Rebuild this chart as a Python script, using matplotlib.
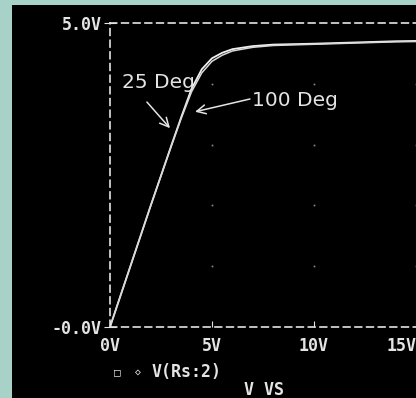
import matplotlib.pyplot as plt

# Data (sweep of Vs, output V(Rs:2))
vs = [0, 1, 2, 3, 3.5, 4, 4.5, 5, 5.5, 6, 7, 8, 10, 12, 14, 16]
v_25 = [0, 1, 2, 2.98, 3.46, 3.92, 4.24, 4.42, 4.51, 4.57, 4.62, 4.645, 4.66, 4.68, 4.70, 4.71]
v_100 = [0, 1, 2, 2.97, 3.44, 3.87, 4.18, 4.37, 4.47, 4.54, 4.60, 4.63, 4.65, 4.67, 4.69, 4.70]

xticks = [0, 5, 10, 15]
xticklabels = ["0V", "5V", "10V", "15V"]
yticks = [0, 5]
yticklabels = ["-0.0V", "5.0V"]
grid_levels = [1, 2, 3, 4]

W, H = 416, 398
fig = plt.figure(figsize=(W / 100, H / 100), dpi=100, facecolor="#a8d2c8")
# black screen area
fig.patches.append(plt.Rectangle((12 / W, 0), 1, 1 - 5 / H, transform=fig.transFigure,
                                 facecolor="black", edgecolor="none", zorder=-1))

ax = fig.add_axes([110 / W, 71 / H, 306 / W, 304 / H])
ax.set_facecolor("black")
ax.set_xlim(0, 15)
ax.set_ylim(0, 5)

fg = "#e4e4e4"
mono = dict(family="DejaVu Sans Mono", weight="bold", color=fg)

for s in ["left", "bottom", "top"]:
    ax.spines[s].set_color(fg)
    ax.spines[s].set_linestyle((0, (4, 3)))
    ax.spines[s].set_linewidth(1.2)
ax.spines["right"].set_visible(False)

ax.set_xticks(xticks)
ax.set_xticklabels(xticklabels, fontsize=12, **mono)
ax.get_xticklabels()[-1].set_horizontalalignment("right")
ax.set_yticks(yticks)
ax.set_yticklabels(yticklabels, fontsize=12, **mono)
ax.tick_params(axis="x", direction="in", length=4, color=fg, pad=7)
ax.tick_params(axis="y", direction="inout", length=8, color=fg, pad=2)

# dotted grid marks
for xt in xticks[1:]:
    for yl in grid_levels:
        ax.plot(xt, yl, "s", ms=1.2, color="#909090", mec="none", clip_on=False)

ax.plot(vs, v_25, color="#f0f0f0", lw=1.3)
ax.plot(vs, v_100, color="#d8d8d8", lw=1.1)

lbl = dict(color=fg, fontsize=14.5, fontfamily="DejaVu Sans", ha="left", va="center")
ax.text(0.59, 4.02, "25 Deg", **lbl)
ax.text(6.96, 3.73, "100 Deg", **lbl)
arrow = dict(arrowstyle="->", color=fg, lw=1.1, shrinkA=0, shrinkB=0, mutation_scale=16)
ax.annotate("", xy=(2.94, 3.27), xytext=(1.81, 3.70), arrowprops=arrow)
ax.annotate("", xy=(4.17, 3.54), xytext=(6.86, 3.75), arrowprops=arrow)

# legend row and x label
fig.text(117 / W, 1 - 372 / H, "\u25a1", fontsize=8, ha="center", va="center", **mono)
fig.text(138 / W, 1 - 372 / H, "\u25c7", fontsize=7, ha="center", va="center", **mono)
fig.text(152 / W, 1 - 372 / H, "V(Rs:2)", fontsize=12, ha="left", va="center", **mono)
fig.text(264 / W, 1 - 390 / H, "V VS", fontsize=12, ha="center", va="center", **mono)

fig.savefig("out.png", dpi=100, facecolor=fig.get_facecolor())
